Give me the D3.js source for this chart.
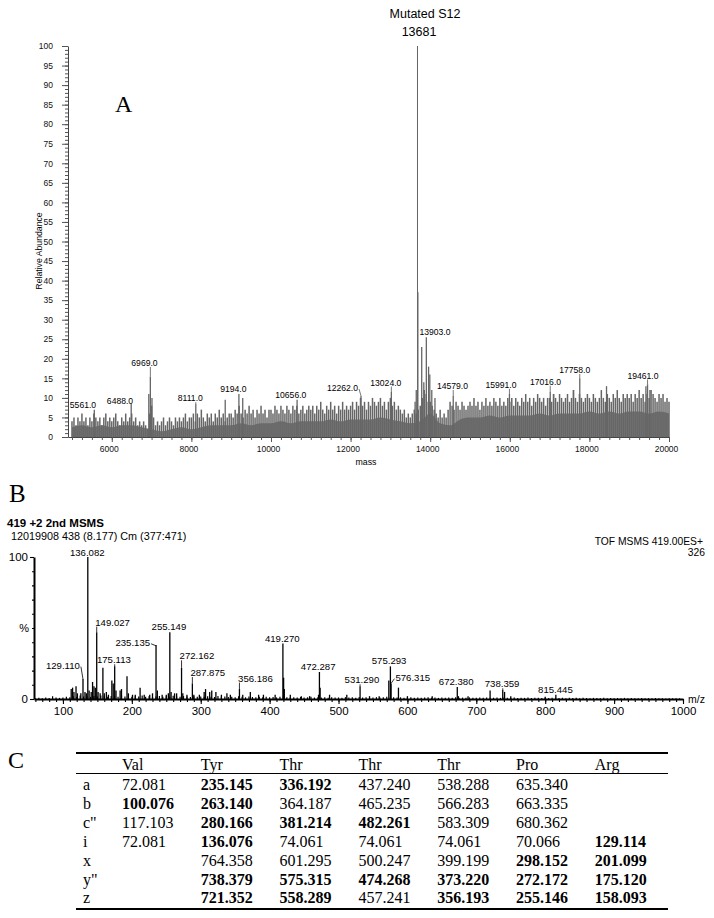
<!DOCTYPE html>
<html><head><meta charset="utf-8">
<script src="https://cdn.jsdelivr.net/npm/d3@7"></script>
<style>
body{margin:0;background:#fff}
svg{display:block}
text{font-family:"Liberation Sans",Arial,sans-serif}
text.serif{font-family:"Liberation Serif","Times New Roman",serif}
</style>
</head><body>
<svg id="c" width="714" height="918"></svg>
<script>
// ---------------- Panel A data (deconvoluted mass spectrum) ----------------
const noiseAStart = 5000, noiseAStep = 50;
const noiseA = [
 4,5,3,5,4,6,4,5,3,5,4,6,5,4,5,3,5,6,4,5,          // 5000
 4,5,6,4,3,5,4,6,4,5,6,4,5,3,4,3,4,3,2,6,          // 6000
 8,5,3,4,3,4,5,3,4,5,4,3,5,4,5,4,5,6,4,5,          // 7000
 5,6,4,6,5,7,5,4,6,5,6,4,6,5,7,5,6,4,5,6,          // 8000
 6,5,7,6,8,6,5,7,6,8,6,7,5,7,6,8,6,7,5,7,          // 9000
 7,6,8,7,6,8,7,6,8,7,6,8,7,8,6,7,8,6,7,8,          // 10000
 7,8,6,8,7,9,7,6,8,7,9,7,8,6,8,7,9,7,8,7,          // 11000
 8,9,7,9,8,10,8,9,7,9,8,10,9,8,9,10,8,9,7,9,       // 12000
 10,8,9,7,8,7,6,7,5,6,5,6,7,6,7,8,10,12,11,9,      // 13000
 9,8,7,6,5,7,5,6,5,7,9,8,7,9,8,7,9,8,7,8,          // 14000
 9,8,10,8,9,7,9,8,10,8,9,8,10,9,8,10,8,9,8,10,     // 15000
 9,10,8,10,9,8,10,9,11,9,10,8,10,9,11,10,9,10,8,10,// 16000
 10,9,11,10,9,11,10,9,10,11,9,10,12,10,9,11,10,9,10,11, // 17000
 10,9,11,10,9,10,12,10,9,11,10,9,11,10,12,10,9,11,10,11, // 18000
 10,11,9,11,10,12,10,11,9,11,10,12,11,10,9,11,10,11,9,10, // 19000
 9                                                  // 20000
];
// lower (valley) envelope of the grey band, every 250 Da from 5000 to 20000
const floorAStart = 5000, floorAStep = 250;
const floorA = [
 2.5,3,2.5,3,2.5,3,3,2.5,2,1.5,2,2.5,2,2.5,3,3,3,3.5,3,3.5,        // 5000-9750
 3.5,4,3.5,4,4,4,4.5,4,4.5,4.5,4.5,5,4.5,4,3.5,4,6,3.5,3,4.5,      // 10000-14750
 5,5,5.5,5,5.5,5.5,5.5,6,5.5,6,6,6,6.5,6,6.5,6,6.5,6.5,6,6.5,      // 15000-19750
 6                                                                 // 20000
];
const peakAMass = [5561,6488,6930,6969,7010,8111,8850,9194,9290,10656,12262,13024,13620,13650,
                   13681,13690,13787,13840,13903,13960,13990,14040,14120,14579,15991,17016,17100,
                   17600,17758,18430,19420,19461,19520];
const peakAVal  = [7,8.5,11,15.5,10,8.5,9.5,11,10,9.5,10.5,11.5,9,12,
                   100,37,23,14,25.5,18,16,12,10,10.5,11,11.5,11,
                   12,15,13,13,13.5,12];
const labelAText  = ["5561.0","6488.0","6969.0","8111.0","9194.0","10656.0","12262.0","13024.0",
                     "13903.0","14579.0","15991.0","17016.0","17758.0","19461.0"];
const labelAPeakV = [7,8.5,15.5,8.5,11,9.5,10.5,11.5,25.5,10.5,11,11.5,15,13.5];
const labelAMass  = [5277,6207,6822,7973,9054,10498,11797,12885,14121,14561,15779,16898,17631,19347];
const labelALevel = [8.2,9.3,18.9,9.9,12.3,10.7,12.5,13.9,26.8,13.0,13.3,14.1,17.1,15.7];
const xTicksA = [6000,8000,10000,12000,14000,16000,18000,20000];
const yTicksA = d3.range(0,101,5);

// ---------------- Panel B data (MS/MS spectrum) ----------------
const noiseBStart = 60, noiseBStep = 5;
const noiseB = [
 0.5,0.8,0.6,1,0.7,2,1,0.8,
 1,1.5,1.2,2,1.5,2.5,1.8,2,1.5,2.2,1.8,2.5,2,1.6,2.2,2,1.5,2.4,1.8,2,
 1.5,2,1.8,2.4,1.6,2,1.5,1.8,2.2,1.5,2,1.6,2.3,1.8,1.5,2,1.7,1.4,2,1.6,
 1.8,1.5,2,1.6,1.4,2.2,1.5,1.8,1.4,1.6,1.3,2,1.5,1.2,1.7,1.4,1.3,1.6,1.2,1.5,
 1.2,1.4,1.1,1.5,1.8,1.2,1,1.3,1.1,1.4,1,1.2,1.5,1,1.3,1.1,1.2,0.9,1.3,1,
 1.1,0.9,1.3,1,1.2,0.9,1.4,1,1.2,0.9,1.1,1.3,1,1.2,1.5,1.1,1.3,1,1.2,0.9,
 1,1.2,0.9,1.1,0.8,1,1.2,0.9,1.1,0.8,1,0.9,1.1,0.8,1.2,0.9,1,0.8,1.1,0.9,
 0.8,1,0.9,1.1,0.8,0.9,1,0.8,1.1,0.9,0.8,1,0.7,0.9,0.8,1,0.7,0.9,0.8,0.7,
 0.8,0.7,0.9,0.8,0.7,0.9,0.6,0.8,0.7,0.9,0.6,0.8,0.7,0.6,0.8,0.7,0.6,0.8,0.5,0.7,
 0.6,0.7,0.5,0.8,0.6,0.7,0.5,0.6,0.7,0.5,0.6,0.5,0.7,0.5,0.6,0.4,0.6,0.5,0.6,0.5
];
const peakBMass = [112,114,116,119,121,126,129.11,132,134,136.082,138,141,143,145,147,149.027,151,154,158,160,
  163,166,171,173,175.113,177,183,185,193,195,201,205,212,218,226,230,235.135,237,244,250,253,255.149,257,262,
  265,272.162,274,280,287.875,290,298,305,307,313,316,322,330,338,343,356.186,361,372,384,391,408,419.27,420.3,
  421.3,430,446,458,471,472.287,473.3,487,512,531.29,545,559,573,575.293,576.315,587,600,636,672.38,674,688,720,
  738.359,741,750,800,815.445];
const peakBVal = [7,8,5,9,4,4,14,5,4,100,6,5,12,9,8,47,5,4,22,4,
  5,3,13,11,23,6,6,7,16,4,3,3,8,3,3,4,38,6,3,3,4,47,5,4,
  4,22,4,3,11,3,3,5,7,5,6,5,3,4,3,7,3,5,3,3,3,39,15,
  7,3,2,2,3,19,8,3,3,9,2,2,13,23,11,8,2,2,8.5,2,2,6,
  6.5,5,2,1.5,3];
const labelBText  = ["136.082","149.027","255.149","235.135","175.113","129.110","272.162","287.875","356.186",
                     "419.270","472.287","531.290","575.293","576.315","672.380","738.359","815.445"];
const labelBPeakV = [100,47,47,38,23,14,22,11,7,39,19,9,23,11,8.5,6.5,3];
const labelBMass  = [135.3,172.1,253.8,201.3,174.0,100.0,294.5,310.2,379.4,418.3,470.5,534.0,573.4,607.7,670.8,737.4,814.8];
const labelBLevel = [103.0,54.0,50.9,39.6,27.5,23.5,30.3,18.5,14.6,42.7,22.7,13.4,26.8,15.0,12.2,10.6,6.8];
const xTicksB = d3.range(100,1001,100);

// ---------------- Panel C data (fragment ion table) ----------------
const residues = ["Val","Tyr","Thr","Thr","Thr","Pro","Arg"];
const ionTypes = ["a","b","c\"","i","x","y\"","z"];
const ionValues = [
 ["72.081","235.145","336.192","437.240","538.288","635.340",""],
 ["100.076","263.140","364.187","465.235","566.283","663.335",""],
 ["117.103","280.166","381.214","482.261","583.309","680.362",""],
 ["72.081","136.076","74.061","74.061","74.061","70.066","129.114"],
 ["","764.358","601.295","500.247","399.199","298.152","201.099"],
 ["","738.379","575.315","474.268","373.220","272.172","175.120"],
 ["","721.352","558.289","457.241","356.193","255.146","158.093"]
];
const ionObserved = [
 [0,1,1,0,0,0,0],
 [1,1,0,0,0,0,0],
 [0,1,1,1,0,0,0],
 [0,1,0,0,0,0,1],
 [0,0,0,0,0,1,1],
 [0,1,1,1,1,1,1],
 [0,1,1,0,1,1,1]
];

// ======================= drawing =======================
const svg = d3.select("#c");

// ---------- Panel A ----------
const xA = d3.scaleLinear().domain([4900,20000]).range([68,669]);
const yA = d3.scaleLinear().domain([0,100]).range([437,46]);
const gA = svg.append("g");

// grey band floor
gA.append("path").datum(floorA)
  .attr("d", d3.area().x((d,i)=>xA(floorAStart+i*floorAStep)).y0(yA(0)).y1(d=>yA(d)).curve(d3.curveMonotoneX))
  .attr("fill","#7a7a7a");
// sticks (noise)
gA.append("g").selectAll("line").data(noiseA).join("line")
  .attr("x1",(d,i)=>xA(noiseAStart+i*noiseAStep)).attr("x2",(d,i)=>xA(noiseAStart+i*noiseAStep))
  .attr("y1",yA(0)).attr("y2",d=>yA(d))
  .attr("stroke","#666").attr("stroke-width",1.5);
// discrete peaks
gA.append("g").selectAll("line").data(peakAMass).join("line")
  .attr("x1",d=>xA(d)).attr("x2",d=>xA(d))
  .attr("y1",yA(0)).attr("y2",(d,i)=>yA(peakAVal[i]))
  .attr("stroke","#666").attr("stroke-width",(d,i)=>peakAVal[i]>=100?1:1.3);

// axes
gA.append("g").attr("transform","translate(68,0)")
  .call(d3.axisLeft(yA).tickValues(yTicksA).tickSize(6).tickSizeOuter(0).tickPadding(9));
gA.append("g").attr("transform","translate(68,0)")
  .call(d3.axisLeft(yA).tickValues(d3.range(0,101,1)).tickSize(3).tickFormat(""))
  .call(g=>g.select(".domain").remove());
const xAxA = gA.append("g").attr("transform","translate(0,437)")
  .call(d3.axisBottom(xA).tickValues(xTicksA).tickSize(5).tickSizeOuter(0).tickPadding(4).tickFormat(d3.format("d")));
gA.append("g").attr("transform","translate(0,437)")
  .call(d3.axisBottom(xA).tickValues(d3.range(5000,20001,250)).tickSize(3).tickFormat(""))
  .call(g=>g.select(".domain").remove());
gA.selectAll(".domain").attr("stroke","#444");
gA.selectAll(".tick line").attr("stroke","#555");
gA.selectAll(".tick text").attr("font-size","8.5px").attr("fill","#111");
xAxA.selectAll(".tick text").attr("dx",-3);

gA.append("text").attr("x",366).attr("y",465).attr("text-anchor","middle")
  .attr("font-size","8.8px").text("mass");
gA.append("text").attr("transform","translate(42,251) rotate(-90)").attr("text-anchor","middle")
  .attr("font-size","8.7px").text("Relative Abundance");
gA.append("text").attr("class","serif").attr("x",115).attr("y",112).attr("font-size","24px").text("A");
gA.append("text").attr("x",xA(13870)).attr("y",yA(108.4)+4.5).attr("text-anchor","middle")
  .attr("font-size","12.5px").text("Mutated S12");
gA.append("text").attr("x",xA(13719)).attr("y",yA(103.6)+4.5).attr("text-anchor","middle")
  .attr("font-size","12.5px").text("13681");

function drawLabels(g, texts, peakM, peakV, posM, posL, xs, ys, fs, col){
  texts.forEach((t,i)=>{
    const cx = xs(posM[i]), cy = ys(posL[i]);
    const tx = g.append("text").attr("x",cx).attr("y",cy+fs*0.36).attr("text-anchor","middle")
      .attr("font-size",fs+"px").attr("fill","#000").text(t);
    const w = tx.node().getComputedTextLength();
    const px = xs(peakM[i]), py = ys(peakV[i]);
    const left = cx - w/2, right = cx + w/2, bottom = cy + fs*0.45;
    let path;
    if (px >= left-1 && px <= right+1) {
      if (py - bottom < 1.5) return;
      path = `M${px},${bottom}L${px},${py}`;
    } else {
      const ex = px > right ? right+1 : left-1;
      path = `M${ex},${cy+1}L${px},${Math.max(py, cy+3)}`;
    }
    g.append("path").attr("d",path).attr("stroke",col).attr("stroke-width",0.8).attr("fill","none");
  });
}
drawLabels(gA, labelAText, labelAText.map(Number), labelAPeakV, labelAMass, labelALevel, xA, yA, 8.6, "#555");

// ---------- Panel B ----------
const xB = d3.scaleLinear().domain([58,1000]).range([34,683]);
const yB = d3.scaleLinear().domain([0,100]).range([699,557]);
const gB = svg.append("g");

gB.append("text").attr("class","serif").attr("x",9).attr("y",502).attr("font-size","25px").text("B");
gB.append("text").attr("x",7).attr("y",527).attr("font-size","11.5px").attr("font-weight","bold")
  .text("419 +2 2nd MSMS");
gB.append("text").attr("x",11).attr("y",540).attr("font-size","10.8px")
  .text("12019908 438 (8.177) Cm (377:471)");
gB.append("text").attr("x",703).attr("y",545).attr("text-anchor","end").attr("font-size","10.3px")
  .text("TOF MSMS 419.00ES+");
gB.append("text").attr("x",705).attr("y",556).attr("text-anchor","end").attr("font-size","10.3px")
  .text("326");

gB.append("g").selectAll("line").data(noiseB).join("line")
  .attr("x1",(d,i)=>xB(noiseBStart+i*noiseBStep)).attr("x2",(d,i)=>xB(noiseBStart+i*noiseBStep))
  .attr("y1",yB(0)).attr("y2",d=>yB(d)).attr("stroke","#000").attr("stroke-width",1.2);
gB.append("g").selectAll("line").data(peakBMass).join("line")
  .attr("x1",d=>xB(d)).attr("x2",d=>xB(d))
  .attr("y1",yB(0)).attr("y2",(d,i)=>yB(peakBVal[i])).attr("stroke","#000").attr("stroke-width",1.3);

gB.append("g").attr("transform","translate(34,0)")
  .call(d3.axisLeft(yB).tickValues([0,100]).tickSize(4).tickSizeOuter(0).tickPadding(2).tickFormat(d3.format("d")));
gB.append("g").attr("transform","translate(34,0)")
  .call(d3.axisLeft(yB).tickValues(d3.range(10,100,10)).tickSize(2).tickFormat(""))
  .call(g=>g.select(".domain").remove());
gB.append("g").attr("transform","translate(0,699)")
  .call(d3.axisBottom(xB).tickValues(xTicksB).tickSize(5).tickSizeOuter(0).tickPadding(3).tickFormat(d3.format("d")));
gB.append("g").attr("transform","translate(0,699)")
  .call(d3.axisBottom(xB).tickValues(d3.range(60,1001,10)).tickSize(3).tickFormat(""))
  .call(g=>g.select(".domain").remove());
gB.selectAll(".domain").attr("stroke","#000").attr("stroke-width",2);
gB.selectAll(".tick line").attr("stroke","#000").attr("stroke-width",1.1);
gB.selectAll(".tick text").attr("font-size","11.5px").attr("fill","#000");
gB.append("text").attr("x",29).attr("y",yB(50)+4).attr("text-anchor","end").attr("font-size","11px").text("%");
gB.append("text").attr("x",688).attr("y",703).attr("font-size","10.5px").text("m/z");

drawLabels(gB, labelBText, labelBText.map(Number), labelBPeakV, labelBMass, labelBLevel, xB, yB, 9.6, "#000");

// ---------- Panel C ----------
const gC = svg.append("g");
gC.append("text").attr("class","serif").attr("x",8).attr("y",768).attr("font-size","24px").text("C");
const colX = d3.scaleLinear().domain([0,1]).range([122,200.8]);
const rowY = d3.scaleLinear().domain([0,1]).range([790,808.9]);
const tableL = 76, tableR = 668;
gC.append("line").attr("x1",tableL).attr("x2",tableR).attr("y1",753).attr("y2",753).attr("stroke","#000").attr("stroke-width",2.2);
gC.append("line").attr("x1",tableL).attr("x2",tableR).attr("y1",773.5).attr("y2",773.5).attr("stroke","#000").attr("stroke-width",1.2);
gC.append("line").attr("x1",tableL).attr("x2",tableR).attr("y1",909).attr("y2",909).attr("stroke","#000").attr("stroke-width",2.2);
gC.selectAll("text.hd").data(residues).join("text").attr("class","hd serif")
  .attr("x",(d,i)=>colX(i)).attr("y",769.5).attr("font-size","16px").text(d=>d);
gC.selectAll("text.rl").data(ionTypes).join("text").attr("class","rl serif")
  .attr("x",83).attr("y",(d,i)=>rowY(i)).attr("font-size","16px").text(d=>d);
ionValues.forEach((row,r)=>{
  row.forEach((v,c)=>{
    if(!v) return;
    gC.append("text").attr("class","serif").attr("x",colX(c)).attr("y",rowY(r)).attr("font-size","16px")
      .attr("font-weight",ionObserved[r][c]?"bold":"normal").text(v);
  });
});
</script>
</body></html>
